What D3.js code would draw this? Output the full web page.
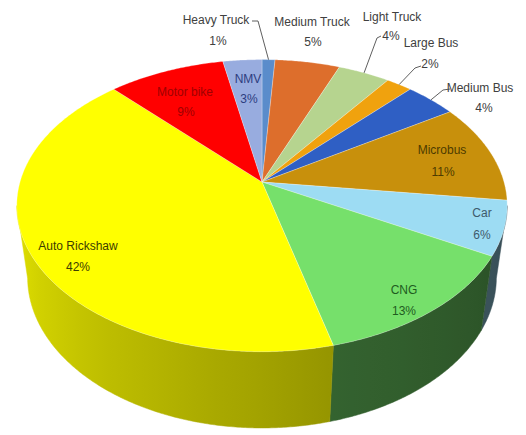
<!DOCTYPE html>
<html>
<head>
<meta charset="utf-8">
<script src="https://cdn.jsdelivr.net/npm/d3@7"></script>
<style>
  html, body { margin: 0; padding: 0; background: #ffffff; }
  svg { display: block; }
  text { font-family: "Liberation Sans", Arial, sans-serif; font-size: 12px; }
</style>
</head>
<body>
<svg id="chart" width="526" height="435"></svg>
<script>
// Vehicle mix shares (percent), clockwise from 12 o'clock
const categories = ["Heavy Truck", "Medium Truck", "Light Truck", "Large Bus", "Medium Bus",
                    "Microbus", "Car", "CNG", "Auto Rickshaw", "Motor bike", "NMV"];
const shares = [1, 5, 4, 2, 4, 11, 6, 13, 42, 9, 3];
const percentLabels = ["1%", "5%", "4%", "2%", "4%", "11%", "6%", "13%", "42%", "9%", "3%"];

// Slice colours and label text colours
const sliceColors = ["#5a8ccb", "#dd6e2c", "#b6d48f", "#f0a20e", "#2f5fc4",
                     "#c8900c", "#9ddcf3", "#76e06b", "#ffff00", "#ff0000", "#98acdf"];
const textColors = ["#404040", "#404040", "#404040", "#404040", "#404040",
                    "#4d3b00", "#3d5a6c", "#1f5c1f", "#3d3d00", "#a00000", "#2d3d80"];

// Label layout: centre of name line, centre of percent line, leader start (or null)
const labelLayout = [
  { name: [216, 20], pct: [218, 41], leader: [[252, 21], [258, 21]] },
  { name: [312, 22], pct: [313, 42], leader: null },
  { name: [392, 17], pct: [391, 36], leader: [[381, 36], [377, 38]] },
  { name: [431, 43], pct: [430, 64], leader: [[421, 66], [415, 68]] },
  { name: [480, 88], pct: [484, 108], leader: [[450, 89], [443, 90]] },
  { name: [442, 150], pct: [443, 172], leader: null },
  { name: [482, 213], pct: [482, 235], leader: null },
  { name: [404, 290], pct: [404, 311], leader: null },
  { name: [78, 246], pct: [78, 267], leader: null },
  { name: [185, 92], pct: [186, 112], leader: null },
  { name: [248, 79], pct: [249, 99], leader: null }
];

const svg = d3.select("#chart");

// Perspective camera for a tilted disc of unit radius
const cx = 262, cy = 182, F = 1210, D = 5, phi = 36 * Math.PI / 180, H = 0.383;
function proj(theta, Y, r = 1) {
  const X = r * Math.sin(theta), Zw = r * Math.cos(theta);
  const yc = Zw * Math.sin(phi) + Y * Math.cos(phi);
  const zc = Zw * Math.cos(phi) - Y * Math.sin(phi) + D;
  return [cx + F * X / zc, cy - F * yc / zc];
}

function arcPoints(a0, a1, Y) {
  const n = Math.max(2, Math.ceil(Math.abs(a1 - a0) / (Math.PI / 360)));
  return d3.range(n + 1).map(i => proj(a0 + (a1 - a0) * i / n, Y));
}

const pie = d3.pie().sort(null).value(d => d).startAngle(0).endAngle(2 * Math.PI);
const arcs = pie(shares);

// Visible part of the rim (silhouette under perspective)
const u = Math.cos(phi) / D;
const visStart = Math.acos(-u), visEnd = 2 * Math.PI - Math.acos(-u);

// Side shading: slices facing right sit in shadow, the left-facing wall is lit
function shade(theta, inShadow) {
  const deg = theta * 180 / Math.PI;
  if (inShadow) return Math.max(0.36, 0.44 - Math.max(0, 165 - deg) * 0.0015);
  return Math.min(0.9, 0.6 + (deg - 170) * 0.0033);
}
function scaled(color, k) {
  const c = d3.rgb(color);
  return d3.rgb(c.r * k, c.g * k, c.b * k).formatHex();
}

const defs = svg.append("defs");
const line = d3.line();

// Rim (side walls)
arcs.forEach((a, i) => {
  const s = Math.max(a.startAngle, visStart), e = Math.min(a.endAngle, visEnd);
  if (e <= s) return;
  const inShadow = a.endAngle < Math.PI;
  const top = arcPoints(s, e, 0);
  const bottom = arcPoints(e, s, -H);
  const x1 = proj(s, 0)[0], x2 = proj(e, 0)[0];
  const grad = defs.append("linearGradient")
    .attr("id", "side" + i)
    .attr("gradientUnits", "userSpaceOnUse")
    .attr("x1", x1).attr("x2", x2).attr("y1", 0).attr("y2", 0);
  const steps = 12;
  d3.range(steps + 1).forEach(k => {
    const t = s + (e - s) * k / steps;
    const x = proj(t, 0)[0];
    grad.append("stop")
      .attr("offset", Math.abs(x2 - x1) < 1e-6 ? 0 : (x - x1) / (x2 - x1))
      .attr("stop-color", scaled(sliceColors[i], shade(t, inShadow)));
  });
  svg.append("path")
    .attr("d", line(top.concat(bottom)) + "Z")
    .attr("fill", `url(#side${i})`)
    .attr("stroke", `url(#side${i})`)
    .attr("stroke-width", 0.5);
});

// Top faces
const center = proj(0, 0, 0);
arcs.forEach((a, i) => {
  const pts = [center].concat(arcPoints(a.startAngle, a.endAngle, 0));
  svg.append("path")
    .attr("d", line(pts) + "Z")
    .attr("fill", sliceColors[i])
    .attr("stroke", "rgba(255,255,255,0.45)")
    .attr("stroke-width", 0.6)
    .attr("stroke-linejoin", "round");
});

// Leader lines for the narrow slices
arcs.forEach((a, i) => {
  const lay = labelLayout[i];
  if (!lay.leader) return;
  const mid = (a.startAngle + a.endAngle) / 2;
  const anchor = proj(mid, 0);
  svg.append("path")
    .attr("d", line(lay.leader.concat([anchor])))
    .attr("fill", "none")
    .attr("stroke", "#5f5f5f")
    .attr("stroke-width", 1);
});

// Data labels
arcs.forEach((a, i) => {
  const lay = labelLayout[i];
  const g = svg.append("g").attr("fill", textColors[i]).attr("text-anchor", "middle");
  g.append("text").attr("x", lay.name[0]).attr("y", lay.name[1])
    .attr("dominant-baseline", "central").text(categories[i]);
  g.append("text").attr("x", lay.pct[0]).attr("y", lay.pct[1])
    .attr("dominant-baseline", "central").text(percentLabels[i]);
});
</script>
</body>
</html>
